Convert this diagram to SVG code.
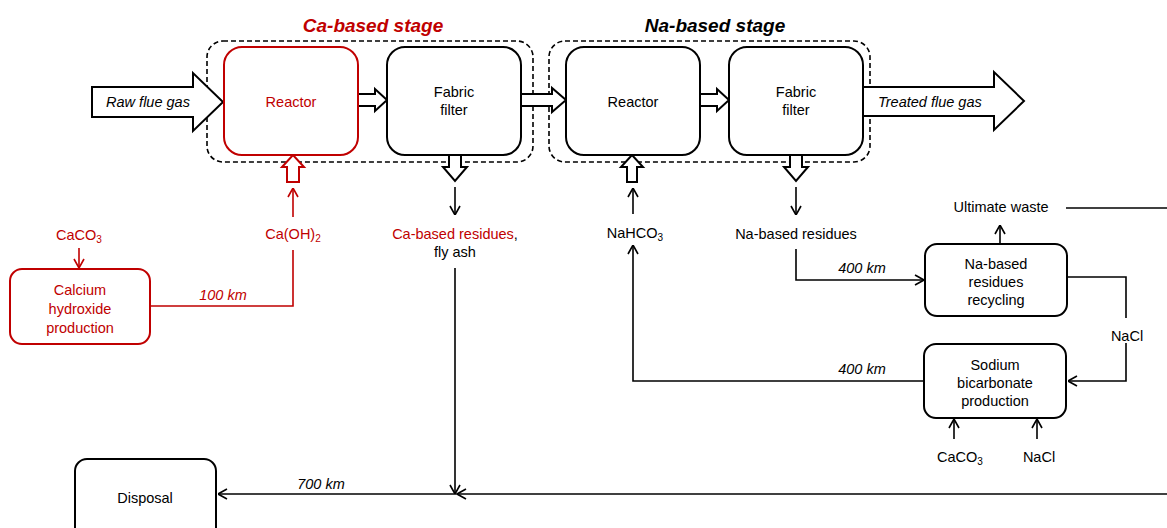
<svg xmlns="http://www.w3.org/2000/svg" width="1167" height="528" viewBox="0 0 1167 528">
<style>
text{font-family:"Liberation Sans",Arial,sans-serif;font-size:14.5px;fill:#000;text-anchor:middle}
.red{fill:#c00000}
.it{font-style:italic}
.title{font-size:19px;font-weight:bold;font-style:italic}
.box{fill:#fff;stroke:#000;stroke-width:2}
.rbox{fill:#fff;stroke:#c00000;stroke-width:2}
.dash{fill:none;stroke:#000;stroke-width:1.6;stroke-dasharray:5,3}
.blk{fill:#fff;stroke:#000;stroke-width:2;stroke-linejoin:miter}
.rblk{fill:#fff;stroke:#c00000;stroke-width:2}
.ln{fill:none;stroke:#000;stroke-width:1.6}
.rln{fill:none;stroke:#c00000;stroke-width:1.6}
.sub{font-size:10px}
</style>
<defs>
<marker id="ah" viewBox="0 0 10 12" refX="10" refY="6" markerWidth="10" markerHeight="12" markerUnits="userSpaceOnUse" orient="auto">
<path d="M1,1 L10,6 L1,11" fill="none" stroke="#000" stroke-width="1.6"/>
</marker>
<marker id="rah" viewBox="0 0 10 12" refX="10" refY="6" markerWidth="10" markerHeight="12" markerUnits="userSpaceOnUse" orient="auto">
<path d="M1,1 L10,6 L1,11" fill="none" stroke="#c00000" stroke-width="1.6"/>
</marker>
</defs>

<g id="stage-ca">
<rect class="dash" x="207" y="41" width="326" height="121" rx="16"/>
<text class="title red" x="373" y="32">Ca-based stage</text>
</g>
<g id="stage-na">
<rect class="dash" x="549" y="41" width="321" height="121" rx="16"/>
<text class="title" x="715" y="32">Na-based stage</text>
</g>

<g id="connectors">
<path class="blk" d="M92,87 H193 V73 L223,102 L193,131 V117 H92 Z"/>
<path class="blk" d="M863,87 H994 V72 L1024,101 L994,130 V116 H863"/>
<path class="blk" d="M358,94 H375 V89 L387,100 L375,111 V106 H358"/>
<path class="blk" d="M521,94 H552 V88 L566,100 L552,112 V106 H521"/>
<path class="blk" d="M700,94 H717 V89 L729,100 L717,111 V106 H700"/>
<path class="rblk" d="M287,182 V167 H282 L293,155 L304,167 H299 V182 Z"/>
<path class="blk" d="M627,182 V167 H621 L632,155 L643,167 H637 V182 Z"/>
<path class="blk" d="M449,155 V167 H443 L455,181 L467,167 H461 V155"/>
<path class="blk" d="M790,155 V167 H784 L796,181 L808,167 H802 V155"/>

<path class="rln" d="M293,217 V188" marker-end="url(#rah)"/>
<path class="rln" d="M293,250 V306 H150"/>
<path class="rln" d="M79,248 V268" marker-end="url(#rah)"/>
<path class="ln" d="M455,187 V215" marker-end="url(#ah)"/>
<path class="ln" d="M796,187 V215" marker-end="url(#ah)"/>
<path class="ln" d="M633,214 V188" marker-end="url(#ah)"/>
<path class="ln" d="M924,381 H633 V245" marker-end="url(#ah)"/>
<path class="ln" d="M796,249 V280 H924" marker-end="url(#ah)"/>
<path class="ln" d="M455,268 V494" marker-end="url(#ah)"/>
<path class="ln" d="M1000,243 V225" marker-end="url(#ah)"/>
<path class="ln" d="M1066,208 H1167"/>
<path class="ln" d="M1067,277 H1126 V318"/>
<path class="ln" d="M1126,343 V381 H1068" marker-end="url(#ah)"/>
<path class="ln" d="M954,439 V419" marker-end="url(#ah)"/>
<path class="ln" d="M1037,439 V419" marker-end="url(#ah)"/>
<path class="ln" d="M1167,494 H457" marker-end="url(#ah)"/>
<path class="ln" d="M457,494 H218" marker-end="url(#ah)"/>

<text class="it" x="148" y="107">Raw flue gas</text>
<text class="it" x="878" y="107" style="text-anchor:start">Treated flue gas</text>
<text class="it red" x="223" y="300">100 km</text>
<text class="it" x="862" y="273">400 km</text>
<text class="it" x="862" y="374">400 km</text>
<text class="it" x="321" y="489">700 km</text>
<text class="red" x="79" y="240">CaCO<tspan class="sub" dy="3">3</tspan></text>
<text class="red" x="293" y="239">Ca(OH)<tspan class="sub" dy="3">2</tspan></text>
<text x="455" y="239"><tspan class="red">Ca-based residues</tspan>,</text>
<text x="455" y="257">fly ash</text>
<text x="635" y="238">NaHCO<tspan class="sub" dy="3">3</tspan></text>
<text x="796" y="239">Na-based residues</text>
<text x="1001" y="212">Ultimate waste</text>
<text x="1127" y="341">NaCl</text>
<text x="960" y="462">CaCO<tspan class="sub" dy="3">3</tspan></text>
<text x="1039" y="462">NaCl</text>
</g>

<g id="ca-reactor">
<rect class="rbox" x="224" y="47" width="134" height="108" rx="18"/>
<text class="red" x="291" y="107">Reactor</text>
</g>
<g id="ca-filter">
<rect class="box" x="387" y="47" width="134" height="108" rx="18"/>
<text x="454" y="97">Fabric</text>
<text x="454" y="115">filter</text>
</g>
<g id="na-reactor">
<rect class="box" x="566" y="47" width="134" height="108" rx="18"/>
<text x="633" y="107">Reactor</text>
</g>
<g id="na-filter">
<rect class="box" x="729" y="47" width="134" height="108" rx="18"/>
<text x="796" y="97">Fabric</text>
<text x="796" y="115">filter</text>
</g>
<g id="calcium-hydroxide-production">
<rect class="rbox" x="10" y="269" width="140" height="75" rx="12"/>
<text class="red" x="80" y="295">Calcium</text>
<text class="red" x="80" y="314">hydroxide</text>
<text class="red" x="80" y="333">production</text>
</g>
<g id="na-recycling">
<rect class="box" x="925" y="244" width="142" height="72" rx="12"/>
<text x="996" y="269">Na-based</text>
<text x="996" y="287">residues</text>
<text x="996" y="305">recycling</text>
</g>
<g id="sodium-bicarbonate-production">
<rect class="box" x="924" y="344" width="142" height="74" rx="12"/>
<text x="995" y="370">Sodium</text>
<text x="995" y="388">bicarbonate</text>
<text x="995" y="406">production</text>
</g>
<g id="disposal">
<rect class="box" x="75" y="459" width="141" height="90" rx="12"/>
<text x="145" y="503">Disposal</text>
</g>
</svg>
